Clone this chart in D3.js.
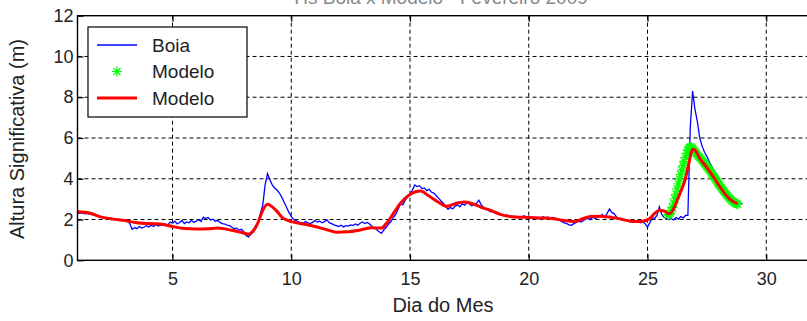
<!DOCTYPE html>
<html>
<head>
<meta charset="utf-8">
<script src="https://cdn.jsdelivr.net/npm/d3@7"></script>
<style>
  html, body { margin: 0; padding: 0; background: #fff; }
  svg { display: block; font-family: "Liberation Sans", Arial, sans-serif; }
</style>
</head>
<body>
<svg id="chart" width="807" height="321"></svg>
<script>
// ---------------- DATA ----------------
const titleText = "Hs Boia x Modelo - Fevereiro 2009";
const xLabel = "Dia do Mes";
const yLabel = "Altura Significativa (m)";
const xTicks = [5, 10, 15, 20, 25, 30];
const yTicks = [0, 2, 4, 6, 8, 10, 12];
const legendLabels = ["Boia", "Modelo", "Modelo"];

// Boia (buoy) observations: sampled every 0.1 day starting on day 1
const boiaStart = 1.0, boiaStep = 0.1;
const boiaValues = [
  2.32, 2.30, 2.33, 2.28, 2.30, 2.26, 2.24, 2.22, 2.18, 2.16, // day 1
  2.12, 2.10, 2.08, 2.06, 2.07, 2.04, 2.02, 2.00, 1.98, 1.97, // day 2
  1.96, 1.94, 1.80, 1.52, 1.60, 1.55, 1.66, 1.58, 1.62, 1.70, // day 3
  1.64, 1.72, 1.66, 1.75, 1.68, 1.74, 1.70, 1.78, 1.72, 1.88, // day 4
  1.82, 1.92, 1.78, 1.85, 1.95, 1.80, 1.88, 1.84, 1.96, 1.86, // day 5
  1.92, 2.00, 1.90, 2.12, 2.05, 2.10, 1.98, 2.02, 1.92, 1.96, // day 6
  1.86, 1.80, 1.78, 1.72, 1.70, 1.62, 1.55, 1.58, 1.48, 1.52, // day 7
  1.40, 1.22, 1.15, 1.28, 1.38, 1.55, 1.80, 2.30, 2.70, 3.70, // day 8
  4.25, 3.95, 3.70, 3.55, 3.45, 3.30, 3.10, 2.85, 2.60, 2.35, // day 9
  2.15, 2.00, 1.95, 1.88, 1.85, 1.82, 1.90, 1.84, 1.80, 1.86, // day 10
  1.95, 1.88, 1.92, 1.84, 1.90, 1.98, 1.85, 1.80, 1.74, 1.70, // day 11
  1.66, 1.72, 1.64, 1.70, 1.68, 1.74, 1.70, 1.78, 1.72, 1.82, // day 12
  1.88, 1.80, 1.86, 1.78, 1.66, 1.60, 1.50, 1.40, 1.32, 1.50, // day 13
  1.62, 1.78, 1.90, 2.10, 2.25, 2.50, 2.78, 2.72, 2.95, 3.10, // day 14
  3.25, 3.45, 3.70, 3.62, 3.66, 3.52, 3.55, 3.42, 3.48, 3.35, // day 15
  3.30, 3.18, 3.05, 2.92, 2.80, 2.65, 2.50, 2.60, 2.52, 2.66, // day 16
  2.72, 2.62, 2.78, 2.70, 2.82, 2.76, 2.68, 2.74, 2.80, 2.95, // day 17
  2.72, 2.60, 2.52, 2.45, 2.38, 2.40, 2.30, 2.34, 2.25, 2.20, // day 18
  2.18, 2.22, 2.12, 2.16, 2.10, 2.14, 2.08, 2.12, 2.18, 2.10, // day 19
  2.05, 2.12, 2.08, 2.02, 2.10, 2.06, 2.14, 2.08, 2.12, 2.04, // day 20
  2.10, 2.06, 2.00, 1.96, 1.90, 1.84, 1.80, 1.74, 1.72, 1.80, // day 21
  1.86, 1.92, 1.88, 1.96, 2.02, 2.08, 2.00, 2.12, 2.05, 2.10, // day 22
  2.15, 2.25, 2.10, 2.30, 2.52, 2.35, 2.28, 2.12, 2.05, 2.00, // day 23
  1.95, 1.98, 1.92, 1.88, 1.94, 1.86, 1.90, 1.84, 1.88, 1.80, // day 24
  1.62, 1.85, 2.10, 2.05, 2.20, 2.62, 2.25, 2.10, 2.05, 2.00, // day 25
  2.05, 1.98, 2.10, 2.02, 2.15, 2.08, 2.20, 2.20, 6.50, 8.30, // day 26
  7.40, 6.80, 6.00, 5.60, 5.30, 5.10, 4.85, 4.60, 4.40, 4.20, // day 27
  4.00, 3.80, 3.60, 3.45, 3.30, 3.12, 3.00, 2.92, 2.85, 2.80, // day 28
  2.76                                                          // day 29
];

// Modelo (red line)
const modeloDays = [
  1.0, 1.5, 2.0, 2.5, 3.0, 3.5, 4.0, 4.5, 5.0, 5.5, 6.0, 6.5, 6.9, 7.5, 8.0, 8.2, 8.4, 8.6, 8.8, 9.0,
  9.2, 9.4, 9.6, 9.8, 10.0, 10.5, 11.0, 11.5, 11.9, 12.4, 12.9, 13.4, 13.8, 14.0, 14.3, 14.6, 14.9, 15.2, 15.45, 15.8,
  16.2, 16.55, 16.9, 17.3, 17.7, 18.0, 18.4, 18.8, 19.2, 20.0, 20.5, 21.0, 21.5, 21.9, 22.3, 22.6, 23.0, 23.4, 23.9, 24.4,
  24.8, 25.1, 25.3, 25.5, 25.7, 25.9, 26.05, 26.2, 26.37, 26.58, 26.75, 26.9, 27.0, 27.2, 27.5, 27.8, 28.05, 28.3, 28.6, 28.8
];
const modeloValues = [
  2.38, 2.32, 2.12, 2.02, 1.95, 1.84, 1.80, 1.78, 1.66, 1.56, 1.54, 1.55, 1.58, 1.47, 1.34, 1.28, 1.45, 1.85, 2.45, 2.75,
  2.62, 2.40, 2.12, 1.98, 1.90, 1.78, 1.66, 1.50, 1.38, 1.40, 1.49, 1.60, 1.58, 1.80, 2.30, 2.80, 3.15, 3.35, 3.40, 3.15,
  2.85, 2.65, 2.78, 2.86, 2.75, 2.60, 2.45, 2.25, 2.15, 2.10, 2.08, 2.05, 1.95, 1.90, 2.05, 2.15, 2.16, 2.12, 2.02, 1.90,
  1.92, 2.05, 2.30, 2.46, 2.42, 2.28, 2.42, 2.80, 3.29, 3.94, 4.80, 5.45, 5.40, 5.00, 4.55, 4.05, 3.60, 3.20, 2.88, 2.78
];

// Modelo (green stars)
const estrelaDays = [
  25.85, 25.90, 25.95, 26.00, 26.05, 26.10, 26.15, 26.20, 26.25, 26.30, 26.35, 26.40, 26.45, 26.50, 26.55, 26.60,
  26.65, 26.70, 26.75, 26.80, 26.85, 26.90, 26.95, 27.00, 27.05, 27.10, 27.15, 27.20, 27.25, 27.30, 27.35, 27.40,
  27.45, 27.50, 27.55, 27.60, 27.65, 27.70, 27.75, 27.80, 27.85, 27.90, 27.95, 28.00, 28.05, 28.10, 28.15, 28.20,
  28.25, 28.30, 28.35, 28.40, 28.45, 28.50, 28.55, 28.60, 28.65, 28.70, 28.75, 28.80
];
const estrelaValues = [
  2.22, 2.25, 2.30, 2.42, 2.60, 2.80, 3.02, 3.25, 3.50, 3.75, 3.98, 4.20, 4.42, 4.64, 4.85, 5.05,
  5.25, 5.42, 5.52, 5.56, 5.55, 5.50, 5.42, 5.35, 5.25, 5.16, 5.10, 5.05, 4.98, 4.90, 4.82, 4.75,
  4.68, 4.60, 4.52, 4.44, 4.35, 4.27, 4.18, 4.10, 4.00, 3.92, 3.83, 3.74, 3.65, 3.57, 3.49, 3.41,
  3.33, 3.25, 3.18, 3.11, 3.04, 2.98, 2.93, 2.88, 2.84, 2.80, 2.77, 2.75
];

// ---------------- DRAWING ----------------
const svg = d3.select("#chart");
const pLeft = 77.5, pTop = 15.7, pBottom = 260.3;
const x = d3.scaleLinear().domain([1, 32]).range([pLeft, pLeft + 31 * 23.75]);
const y = d3.scaleLinear().domain([0, 12]).range([pBottom, pTop]);
const pRight = x(32);

svg.append("defs").append("clipPath").attr("id", "clip")
  .append("rect").attr("x", pLeft).attr("y", pTop).attr("width", pRight - pLeft).attr("height", pBottom - pTop);

// title (clipped at top edge)
svg.append("text").attr("x", 441).attr("y", 4).attr("text-anchor", "middle")
  .attr("font-size", 19).attr("fill", "#888").text(titleText);

// grid
const grid = svg.append("g").attr("stroke", "#000").attr("stroke-width", 1).attr("stroke-dasharray", "4,3");
grid.selectAll("line.h").data(yTicks.filter(v => v > 0 && v < 12)).enter().append("line")
  .attr("x1", pLeft).attr("x2", pRight).attr("y1", d => y(d)).attr("y2", d => y(d));
grid.selectAll("line.v").data(xTicks).enter().append("line")
  .attr("x1", d => x(d)).attr("x2", d => x(d)).attr("y1", pTop).attr("y2", pBottom);

// series
const plot = svg.append("g").attr("clip-path", "url(#clip)");
const boia = boiaValues.map((v, i) => [boiaStart + i * boiaStep, v]);
plot.append("path").datum(boia)
  .attr("fill", "none").attr("stroke", "#0000ff").attr("stroke-width", 1.3)
  .attr("d", d3.line().x(d => x(d[0])).y(d => y(d[1])));

const starPath = s => `M${-s},0H${s}M0,${-s}V${s}M${-s*0.7},${-s*0.7}L${s*0.7},${s*0.7}M${-s*0.7},${s*0.7}L${s*0.7},${-s*0.7}`;
plot.append("g").selectAll("path").data(estrelaDays.map((d, i) => [d, estrelaValues[i]])).enter()
  .append("path")
  .attr("transform", d => `translate(${x(d[0])},${y(d[1])})`)
  .attr("d", starPath(5)).attr("stroke", "#00ff00").attr("stroke-width", 1.2).attr("fill", "none");

plot.append("path").datum(modeloDays.map((d, i) => [d, modeloValues[i]]))
  .attr("fill", "none").attr("stroke", "#ff0000").attr("stroke-width", 3).attr("stroke-linejoin", "round")
  .attr("d", d3.line().curve(d3.curveMonotoneX).x(d => x(d[0])).y(d => y(d[1])));

// axes
const fs = 18;
const xAxis = svg.append("g").attr("transform", `translate(0,${pBottom})`)
  .call(d3.axisBottom(x).tickValues(xTicks).tickSizeInner(-6).tickSizeOuter(0).tickPadding(12).tickFormat(d3.format("d")));
const xAxisTop = svg.append("g").attr("transform", `translate(0,${pTop})`)
  .call(d3.axisTop(x).tickValues(xTicks).tickSizeInner(-6).tickSizeOuter(0).tickFormat(""));
const yAxis = svg.append("g").attr("transform", `translate(${pLeft},0)`)
  .call(d3.axisLeft(y).tickValues(yTicks).tickSizeInner(-6).tickSizeOuter(0).tickPadding(4).tickFormat(d3.format("d")));
[xAxis, xAxisTop, yAxis].forEach(g => {
  g.select(".domain").remove();
  g.selectAll(".tick line").attr("stroke", "#000").attr("stroke-width", 1.2);
  g.selectAll(".tick text").attr("font-size", fs).attr("fill", "#222")
    .attr("font-family", "'Liberation Sans', Arial, sans-serif");
});

// frame
svg.append("rect").attr("x", pLeft).attr("y", pTop).attr("width", pRight - pLeft).attr("height", pBottom - pTop)
  .attr("fill", "none").attr("stroke", "#000").attr("stroke-width", 1.4);

// axis labels
svg.append("text").attr("x", 443).attr("y", 312).attr("text-anchor", "middle")
  .attr("font-size", 20).attr("fill", "#222").text(xLabel);
svg.append("text").attr("transform", "translate(24,139) rotate(-90)").attr("text-anchor", "middle")
  .attr("font-size", 20).attr("fill", "#222").text(yLabel);

// legend
const lg = svg.append("g");
lg.append("rect").attr("x", 88).attr("y", 27).attr("width", 159).attr("height", 90)
  .attr("fill", "#fff").attr("stroke", "#000").attr("stroke-width", 1.2);
const rows = [45, 71.5, 98];
lg.append("line").attr("x1", 97).attr("x2", 137).attr("y1", rows[0]).attr("y2", rows[0])
  .attr("stroke", "#0000ff").attr("stroke-width", 1.3);
lg.append("path").attr("transform", `translate(117,${rows[1]})`).attr("d", starPath(5))
  .attr("stroke", "#00ff00").attr("stroke-width", 1.2);
lg.append("line").attr("x1", 97).attr("x2", 137).attr("y1", rows[2]).attr("y2", rows[2])
  .attr("stroke", "#ff0000").attr("stroke-width", 3);
lg.selectAll("text.l").data(legendLabels).enter().append("text")
  .attr("x", 152).attr("y", (d, i) => rows[i]).attr("dy", "0.36em")
  .attr("font-size", 19).attr("fill", "#222").text(d => d);
</script>
</body>
</html>
